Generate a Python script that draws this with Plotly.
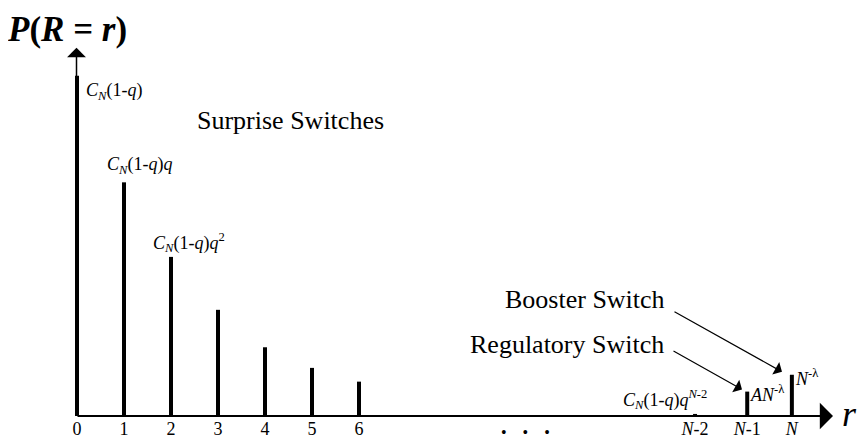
import plotly.graph_objects as go

# ---- data ----
r_labels = ["0", "1", "2", "3", "4", "5", "6", "<i>N</i>-2", "<i>N</i>-1", "<i>N</i>"]
r_pos = [0, 1, 2, 3, 4, 5, 6, 13.15, 14.26, 15.21]
prob = [0.99, 0.68, 0.463, 0.309, 0.20, 0.14, 0.10, 0.006, 0.071, 0.12]

FONT = "Liberation Serif"
OFFX, OFFY = 8, 0           # page offset of the plot div
W, H = 865 - OFFX, 443 - OFFY
# plot area in window pixel coords
PL, PR, PT, PB = 60, 845, 30, 415
PXX = 47.0    # px per x unit
PXY = 350.0   # px per y unit
X0, Y0 = 77, 415


def dx(px):
    return (px - X0) / PXX


def dy(py):
    return (Y0 - py) / PXY


def paperx(px):
    return (px - PL) / (PR - PL)


def papery(py):
    return (PB - py) / (PB - PT)


fig = go.Figure()
fig.add_trace(go.Bar(x=r_pos, y=prob, width=0.085, marker=dict(color="black", line=dict(width=0)),
                     hoverinfo="skip"))

ann = []
# axes with arrowheads
ann.append(dict(x=dx(833), y=0, ax=dx(76), ay=0, xref="x", yref="y", axref="x", ayref="y",
                text="", showarrow=True, arrowhead=1, arrowsize=2.2, arrowwidth=2,
                arrowcolor="black", standoff=0))
ann.append(dict(x=dx(76.5), y=dy(40), ax=dx(76.5), ay=0, xref="x", yref="y", axref="x", ayref="y",
                text="", showarrow=True, arrowhead=1, arrowsize=2.1, arrowwidth=1.5,
                arrowcolor="black", standoff=0))


def txt(px, py, t, size=18, xanchor="left"):
    ann.append(dict(x=paperx(px), y=papery(py), xref="paper", yref="paper", text=t, showarrow=False,
                    xanchor=xanchor, yanchor="middle",
                    font=dict(family=FONT, size=size, color="black")))


C = "<i>C<sub>N</sub></i>(1-<i>q</i>)"
txt(84, 84, C, 18)
txt(105, 160, C + "<i>q</i>", 18)
txt(151, 238, C + "<i>q</i><sup>2</sup>", 18)
txt(621, 398, C + "<i>q</i><sup><i>N</i>-2</sup>", 18)
txt(748, 392, "<i>AN</i><sup>-λ</sup>", 18)
txt(793, 376, "<i>N</i><sup>-λ</sup>", 18)
txt(290, 114, "Surprise Switches", 26, xanchor="center")
txt(667, 296, "Booster Switch", 26, xanchor="right")
txt(666, 342, "Regulatory Switch", 26, xanchor="right")
txt(849, 413, "<i>r</i>", 36, xanchor="center")
txt(525, 432, "•    •    •", 16, xanchor="center")
txt(5, 21, "<b><i>P</i>(<i>R</i> = <i>r</i>)</b>", 35)

# pointer arrows
ann.append(dict(x=dx(782), y=dy(370), ax=dx(673), ay=dy(308), xref="x", yref="y", axref="x", ayref="y",
                text="", showarrow=True, arrowhead=1, arrowsize=2, arrowwidth=1.2,
                arrowcolor="black", standoff=0))
ann.append(dict(x=dx(742), y=dy(388), ax=dx(672), ay=dy(348), xref="x", yref="y", axref="x", ayref="y",
                text="", showarrow=True, arrowhead=1, arrowsize=2, arrowwidth=1.2,
                arrowcolor="black", standoff=0))

fig.update_layout(
    width=W, height=H,
    margin=dict(l=PL - OFFX, r=W - (PR - OFFX), t=PT - OFFY, b=H - (PB - OFFY)),
    paper_bgcolor="white", plot_bgcolor="white",
    showlegend=False,
    font=dict(family=FONT),
    annotations=ann,
    xaxis=dict(range=[dx(PL), dx(PR)], showgrid=False, zeroline=False, showline=False,
               tickmode="array", tickvals=r_pos, ticktext=r_labels, ticks="",
               tickfont=dict(family=FONT, size=18, color="black")),
    yaxis=dict(range=[0, (PB - PT) / PXY], showgrid=False, zeroline=False, showline=False,
               showticklabels=False, ticks=""),
)

fig.write_html("out.html")
